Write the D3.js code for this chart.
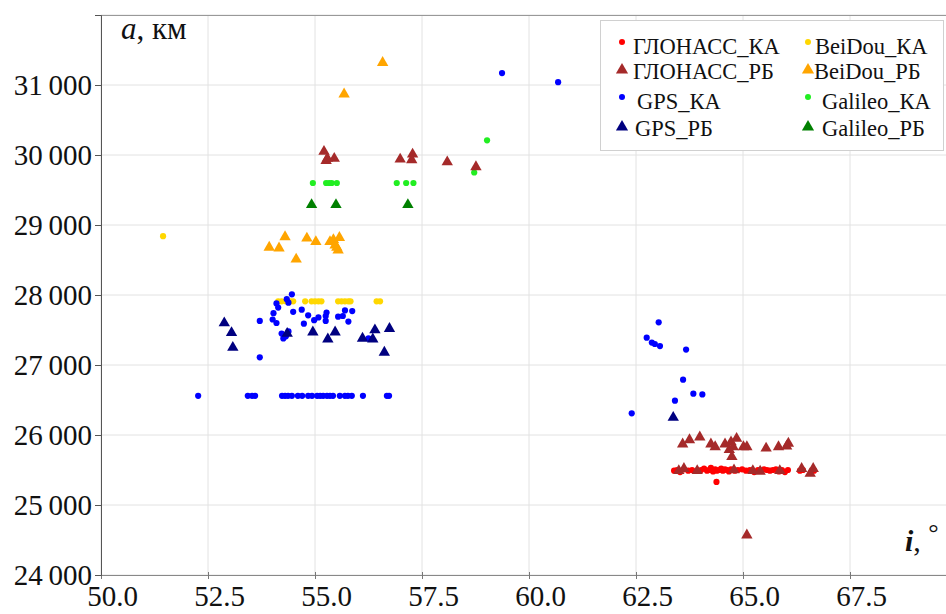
<!DOCTYPE html>
<html>
<head>
<meta charset="utf-8">
<script src="https://cdn.jsdelivr.net/npm/d3@7"></script>
<style>
  body { margin: 0; background: #fff; }
  svg { display: block; font-family: "Liberation Serif", "Times New Roman", serif; }
</style>
</head>
<body>
<div class="canvas"></div>
<script>
// tick values
const xTicks = [50, 52.5, 55, 57.5, 60, 62.5, 65, 67.5, 70];
const yTicks = [24000, 25000, 26000, 27000, 28000, 29000, 30000, 31000, 32000];

// [inclination (deg), semi-major axis (km)]
const glonassKA = [
  [63.39, 25490], [63.46, 25500], [63.53, 25470], [63.62, 25510], [63.72, 25490],
  [63.81, 25500], [63.93, 25490], [64.02, 25500], [64.09, 25520], [64.16, 25490],
  [64.21, 25500], [64.25, 25530], [64.30, 25480], [64.35, 25510], [64.39, 25490],
  [64.44, 25500], [64.49, 25520], [64.53, 25490], [64.58, 25510], [64.63, 25500],
  [64.67, 25480], [64.72, 25510], [64.77, 25500], [64.81, 25490], [64.88, 25500],
  [64.98, 25510], [65.07, 25490], [65.16, 25500], [65.26, 25470], [65.35, 25500],
  [65.42, 25490], [65.49, 25510], [65.56, 25500], [65.63, 25490], [65.70, 25500],
  [65.77, 25510], [65.84, 25480], [65.91, 25500], [65.98, 25470], [66.05, 25500],
  [66.33, 25490], [66.40, 25500], [66.66, 25490], [64.38, 25330]
];
const glonassRB = [
  [63.59, 25870], [63.75, 25930], [63.99, 25970], [64.25, 25870], [64.35, 25830],
  [64.58, 25870], [64.72, 25900], [64.85, 25950], [64.77, 25830], [64.68, 25790],
  [64.74, 25690], [65.01, 25830], [65.09, 25830], [65.54, 25810], [65.83, 25830],
  [66.06, 25880], [66.02, 25840], [66.37, 25520], [66.57, 25450], [66.64, 25520],
  [65.09, 24570], [63.50, 25490], [63.62, 25520], [63.93, 25490], [64.79, 25500],
  [65.23, 25490], [65.40, 25480], [65.86, 25490],
  [55.21, 30050], [55.26, 29920], [55.45, 29950], [55.29, 29950], [56.99, 29940],
  [57.28, 30010], [57.26, 29930], [58.09, 29900], [58.76, 29830]
];
const gpsKA = [
  [52.27, 26560], [53.43, 26560], [53.53, 26560], [53.60, 26560], [54.23, 26560],
  [54.30, 26560], [54.37, 26560], [54.46, 26560], [54.60, 26560], [54.70, 26560],
  [54.84, 26560], [54.93, 26560], [55.05, 26560], [55.12, 26560], [55.19, 26560],
  [55.28, 26560], [55.35, 26560], [55.42, 26560], [55.58, 26560], [55.70, 26560],
  [55.77, 26560], [55.86, 26560], [56.12, 26560], [56.68, 26560], [56.73, 26560],
  [54.46, 28010], [54.34, 27940], [54.10, 27880], [54.14, 27820], [54.38, 27890],
  [54.03, 27740], [54.69, 27790], [54.84, 27710], [54.49, 27760], [55.27, 27750],
  [55.25, 27700], [55.70, 27780], [55.87, 27770], [55.54, 27690], [55.65, 27700],
  [55.08, 27680], [54.98, 27640], [55.25, 27630], [55.78, 27620], [53.71, 27630],
  [54.01, 27650], [54.10, 27600], [54.74, 27590], [54.22, 27450], [54.26, 27380],
  [54.32, 27410], [54.38, 27480], [56.25, 27380], [53.71, 27110],
  [59.37, 31170], [60.68, 31040],
  [63.03, 27610], [62.75, 27390], [62.87, 27320], [62.94, 27300], [63.06, 27270],
  [63.67, 27220], [63.60, 26790], [63.84, 26590], [64.05, 26580], [63.41, 26490],
  [62.40, 26310]
];
const gpsRB = [
  [52.88, 27600], [53.05, 27460], [53.08, 27250], [54.35, 27450], [54.95, 27470],
  [55.47, 27470], [55.30, 27370], [56.11, 27380], [56.35, 27370], [56.40, 27500],
  [56.74, 27520], [56.62, 27180], [63.37, 26250]
];
const beidouKA = [
  [54.14, 27910], [54.22, 27910], [54.32, 27910], [54.42, 27910], [54.49, 27910],
  [54.77, 27910], [54.92, 27910], [55.00, 27910], [55.08, 27910], [55.15, 27910],
  [55.54, 27910], [55.62, 27910], [55.70, 27910], [55.78, 27910], [55.83, 27910],
  [56.44, 27910], [56.52, 27910], [51.45, 28840]
];
const beidouRB = [
  [54.30, 28830], [53.93, 28680], [54.16, 28670], [54.56, 28510], [54.81, 28810],
  [55.02, 28760], [55.35, 28760], [55.43, 28790], [55.57, 28820], [55.51, 28680],
  [55.54, 28640], [55.47, 28710], [56.58, 31320], [55.68, 30870]
];
const galileoKA = [
  [54.95, 29600], [55.26, 29600], [55.33, 29600], [55.39, 29600], [55.51, 29600],
  [56.91, 29600], [57.13, 29600], [57.30, 29600], [59.02, 30210], [58.72, 29750]
];
const galileoRB = [
  [54.92, 29290], [55.49, 29290], [57.17, 29290]
];

const seriesNames = ['ГЛОНАСС_КА', 'ГЛОНАСС_РБ', 'GPS_КА', 'GPS_РБ',
                     'BeiDou_КА', 'BeiDou_РБ', 'Galileo_КА', 'Galileo_РБ'];
const seriesData = [glonassKA, glonassRB, gpsKA, gpsRB, beidouKA, beidouRB, galileoKA, galileoRB];
const seriesColors = ['#ff0000', '#a52a2a', '#0000ff', '#000080',
                      '#ffd700', '#ffa500', '#22ee22', '#008000'];
const seriesShapes = ['dot', 'tri', 'dot', 'tri', 'dot', 'tri', 'dot', 'tri'];

const width = 946, height = 614;
const margin = { top: 15, right: -11, bottom: 39, left: 101 };
const graphWidth = width - margin.left - margin.right;
const graphHeight = height - margin.top - margin.bottom;

const svg = d3.select('.canvas')
    .append('svg')
    .attr('width', width)
    .attr('height', height);

const x = d3.scaleLinear().domain([50, 70]).range([0, graphWidth]);
const y = d3.scaleLinear().domain([24000, 32000]).range([graphHeight, 0]);

const graph = svg.append('g')
    .attr('transform', `translate(${margin.left},${margin.top})`);

// grid
graph.append('g')
    .selectAll('line')
    .data(xTicks)
    .enter()
    .append('line')
    .attr('x1', d => x(d)).attr('x2', d => x(d))
    .attr('y1', 0).attr('y2', graphHeight)
    .attr('stroke', '#e2e2e2');
graph.append('g')
    .selectAll('line')
    .data(yTicks)
    .enter()
    .append('line')
    .attr('x1', 0).attr('x2', graphWidth)
    .attr('y1', d => y(d)).attr('y2', d => y(d))
    .attr('stroke', '#e2e2e2');

// top frame
graph.append('line')
    .attr('x1', 0).attr('x2', graphWidth)
    .attr('y1', 0.5).attr('y2', 0.5)
    .attr('stroke', '#999');

// axes
const fmtY = d => d3.format(',')(d).replace(',', '\u2009');
const xAxis = d3.axisBottom(x)
    .tickValues(xTicks.slice(0, -1))
    .tickSize(4)
    .tickFormat(d3.format('.1f'));
const yAxis = d3.axisLeft(y)
    .tickValues(yTicks.slice(0, -1))
    .tickSize(6)
    .tickFormat(fmtY);

const xAxisGroup = graph.append('g')
    .attr('transform', `translate(0, ${graphHeight})`)
    .call(xAxis);
const yAxisGroup = graph.append('g').call(yAxis);

xAxisGroup.select('.domain').attr('stroke', '#888');
yAxisGroup.select('.domain').attr('stroke', '#555');
xAxisGroup.selectAll('.tick line').attr('stroke', '#777').attr('y1', -3);
yAxisGroup.selectAll('.tick line').attr('stroke', '#555');

xAxisGroup.selectAll('text')
    .attr('font-family', '"Liberation Serif", serif')
    .attr('font-size', 29)
    .attr('fill', '#111')
    .attr('dx', 11)
    .attr('y', 10);
yAxisGroup.selectAll('text')
    .attr('font-family', '"Liberation Serif", serif')
    .attr('font-size', 29)
    .attr('fill', '#111')
    .attr('x', -9);

// points
const triangle = d3.symbol().type(d3.symbolTriangle).size(56);
const drawOrder = [4, 5, 2, 3, 6, 7, 0, 1];
drawOrder.forEach(k => {
    const g = graph.append('g');
    if (seriesShapes[k] === 'dot') {
        g.selectAll('circle')
            .data(seriesData[k])
            .enter()
            .append('circle')
            .attr('cx', d => x(d[0]))
            .attr('cy', d => y(d[1]))
            .attr('r', 3.1)
            .attr('fill', seriesColors[k]);
    } else {
        g.selectAll('path')
            .data(seriesData[k])
            .enter()
            .append('path')
            .attr('d', triangle)
            .attr('transform', d => `translate(${x(d[0])},${y(d[1])})`)
            .attr('fill', seriesColors[k]);
    }
});

// axis titles
const aLabel = svg.append('text')
    .attr('x', 121).attr('y', 39)
    .attr('font-size', 31)
    .attr('fill', '#111');
aLabel.append('tspan').attr('font-style', 'italic').text('a');
aLabel.append('tspan').text(', км');

const iLabel = svg.append('text')
    .attr('x', 905).attr('y', 551)
    .attr('font-size', 30)
    .attr('fill', '#111');
iLabel.append('tspan').attr('font-style', 'italic').attr('font-weight', 'bold').text('i');
iLabel.append('tspan').text(', ');
iLabel.append('tspan').attr('font-size', 26).attr('dy', -10).text('°');

// legend
const legend = svg.append('g');
legend.append('rect')
    .attr('x', 600.5).attr('y', 20.5)
    .attr('width', 343).attr('height', 130)
    .attr('fill', '#fff')
    .attr('stroke', '#d0d0d0');

const rowY = [46, 71, 101, 128];
const colX = [622, 808];
const textX = [[633, 633, 637, 635], [815, 814, 822, 822]];
const legTri = d3.symbol().type(d3.symbolTriangle).size(64);

seriesNames.forEach((name, i) => {
    const col = Math.floor(i / 4), row = i % 4;
    const cx = colX[col], cy = rowY[row];
    if (seriesShapes[i] === 'dot') {
        legend.append('circle')
            .attr('cx', cx).attr('cy', cy - 4)
            .attr('r', 3)
            .attr('fill', seriesColors[i]);
    } else {
        legend.append('path')
            .attr('d', legTri)
            .attr('transform', `translate(${cx},${cy - 1})`)
            .attr('fill', seriesColors[i]);
    }
    legend.append('text')
        .attr('x', textX[col][row])
        .attr('y', cy)
        .attr('dy', '0.35em')
        .attr('font-size', 22.5)
        .attr('fill', '#111')
        .text(name);
});
</script>
</body>
</html>
